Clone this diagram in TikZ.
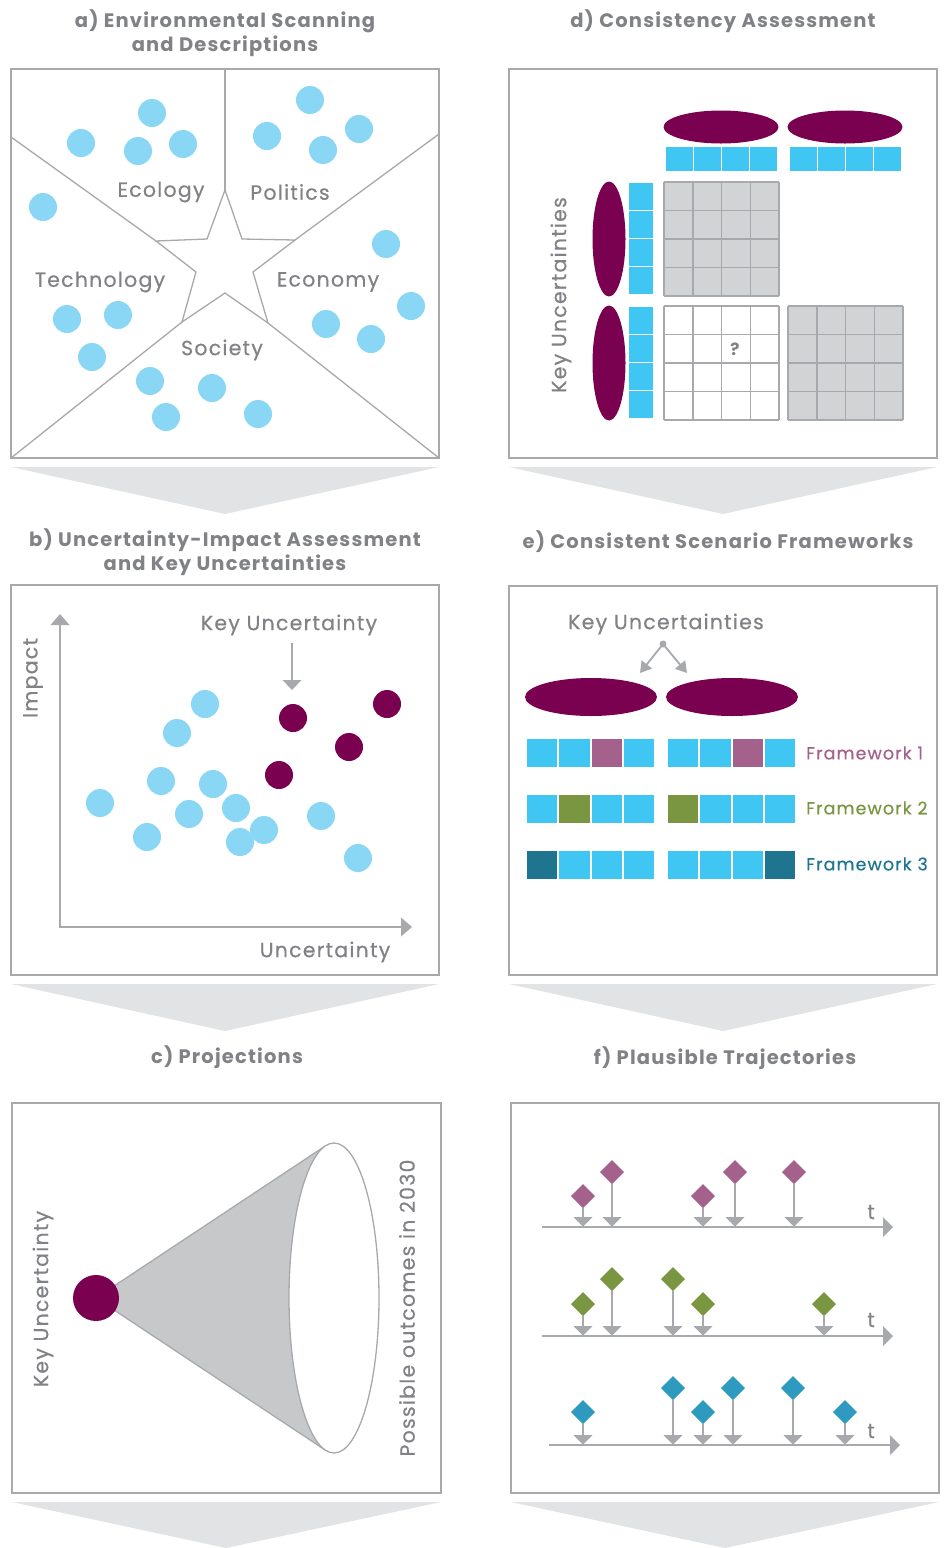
\documentclass[tikz,border=0pt]{standalone}
\usepackage{fontspec}
\setmainfont{Poppins}
\newfontfamily\labf[LetterSpace=6,FakeBold=0.4]{Poppins}
\newfontfamily\ttlf[LetterSpace=6]{Poppins}
\usetikzlibrary{arrows.meta}
\definecolor{bord}{HTML}{A7A9AC}
\definecolor{chev}{HTML}{E2E3E4}
\definecolor{txt}{HTML}{808285}
\definecolor{lblue}{HTML}{89D6F5}
\definecolor{sblue}{HTML}{40C6F2}
\definecolor{purp}{HTML}{7A0050}
\definecolor{mauve}{HTML}{A4618B}
\definecolor{olive}{HTML}{7B9640}
\definecolor{tealdk}{HTML}{1F7590}
\definecolor{teallt}{HTML}{2E9ABF}
\definecolor{gridgray}{HTML}{D1D3D4}
\definecolor{conegray}{HTML}{C7C8CA}
\tikzset{
  panel/.style={draw=bord, line width=2pt, fill=white},
  chevron/.style={fill=chev},
  ttl/.style={text=txt, font=\ttlf\bfseries\fontsize{19.5}{24}\selectfont, align=center, inner sep=0},
  lab/.style={text=txt, font=\labf\fontsize{20.5}{24}\selectfont, inner sep=0},
  flab/.style={anchor=west, inner sep=0, font=\labf\fontsize{17.5}{20}\selectfont},
  bdot/.style={circle, fill=lblue, minimum size=28pt, inner sep=0},
  pdot/.style={circle, fill=purp, minimum size=28pt, inner sep=0},
  thin/.style={draw=bord, line width=1.3pt},
  gline/.style={draw=bord, line width=1.5pt},
  tip/.style={fill=bord},
}
\newcommand\cgrid[3]{%
  \fill[#3] (#1,#2) rectangle ++(115,114);
  \foreach \k in {0,1,2,3,4}{
    \draw[gline] ({#1+\k*28.75},#2) -- ++(0,114);
    \draw[gline] (#1,{#2+\k*28.5}) -- ++(115,0);
  }}
\newcommand\sqrow[6]{%
  \foreach \c [count=\k from 0] in {#5} \fill[\c] ({#1+\k*#3},#2) rectangle ++({#3-#6},#4);}
\newcommand\sqcol[6]{%
  \foreach \c [count=\k from 0] in {#5} \fill[\c] (#1,{#2+\k*#3}) rectangle ++(#4,{#3-#6});}
\newcommand\traj[4]{%
  \fill[#4] (#1,{#2-12}) -- ({#1+12},#2) -- (#1,{#2+12}) -- ({#1-12},#2) -- cycle;
  \draw[thin, line width=1.8pt] (#1,{#2+12}) -- (#1,{#3-10});
  \fill[bord] ({#1-9.5},{#3-10}) -- ({#1+9.5},{#3-10}) -- (#1,{#3-0.5}) -- cycle;}
\begin{document}
\begin{tikzpicture}[x=1pt,y=-1pt]
\useasboundingbox (0,0) rectangle (943,1548);
\fill[white] (0,0) rectangle (943,1548);

% ---------- titles
\node[ttl] (ta) at (225,33) {a) Environmental Scanning\\and Descriptions};
\node[ttl] (td) at (723,21) {d) Consistency Assessment};
\node[ttl] (tb) at (225,552) {b) Uncertainty-Impact Assessment\\and Key Uncertainties};
\node[ttl] (te) at (718,542) {e) Consistent Scenario Frameworks};
\node[ttl] (tc) at (227,1057) {c) Projections};
\node[ttl] (tf) at (725,1058) {f) Plausible Trajectories};

% ---------- chevrons
\fill[chevron] (11,467) -- (439,467) -- (225,514) -- cycle;
\fill[chevron] (509,467) -- (937,467) -- (723,514) -- cycle;
\fill[chevron] (11,984) -- (439,984) -- (225,1031) -- cycle;
\fill[chevron] (509,984) -- (937,984) -- (723,1031) -- cycle;
\fill[chevron] (12,1502) -- (441,1502) -- (226,1548) -- cycle;
\fill[chevron] (511,1502) -- (939,1502) -- (725,1548) -- cycle;

% ---------- panel a
\draw[panel] (11,69) rectangle (439,458);
\draw[thin] (225,190) -- (242,239) -- (295,240) -- (253,272) -- (268,323) -- (225,293)
  -- (182,322) -- (196,272) -- (156,241) -- (207,239) -- cycle;
\draw[thin] (225,190) -- (225,70);
\draw[thin] (156,241) -- (11,137);
\draw[thin] (295,240) -- (439,134);
\draw[thin] (182,322) -- (11,458);
\draw[thin] (268,323) -- (439,458);
\foreach \x/\y [count=\i] in {81/143,152/113,138/151,183/144,43/207,310/100,267/136,323/150,359/129,
  386/244,411/306,326/324,371/339,67/319,118/315,92/357,150/381,212/388,166/417,258/414}
  \node[bdot] (a\i) at (\x,\y) {};
\node[lab] (aeco) at (161,192) {Ecology};
\node[lab] (apol) at (290,192) {Politics};
\node[lab] (atec) at (100,282) {Technology};
\node[lab] (aeco2) at (328,282) {Economy};
\node[lab] (asoc) at (222,350) {Society};

% ---------- panel d
\draw[panel] (509,69) rectangle (937,458);
\fill[purp] (721,127) ellipse [x radius=57.5, y radius=16.5];
\fill[purp] (845,127) ellipse [x radius=57.5, y radius=16.5];
\fill[purp] (609,239) ellipse [x radius=16.5, y radius=57.5];
\fill[purp] (609,363) ellipse [x radius=16.5, y radius=57.5];
\sqrow{666}{147}{28}{24}{sblue,sblue,sblue,sblue}{1.5}
\sqrow{790}{147}{28}{24}{sblue,sblue,sblue,sblue}{1.5}
\sqcol{629}{183}{28}{24}{sblue,sblue,sblue,sblue}{1.5}
\sqcol{629}{307}{28}{24}{sblue,sblue,sblue,sblue}{1.5}
\cgrid{664}{182}{gridgray}
\cgrid{664}{306}{white}
\cgrid{788}{306}{gridgray}
\node[text=txt, font=\bfseries\fontsize{17}{20}\selectfont] (q) at (735,349) {?};
\node[lab, rotate=90] (dku) at (561,295) {Key Uncertainties};

% ---------- panel b
\draw[panel] (11,585) rectangle (439,975);
\draw[thin, line width=2pt] (60,625) -- (60,927) -- (401,927);
\fill[tip] (50.5,625) -- (69.5,625) -- (60,614) -- cycle;
\fill[tip] (401,917.5) -- (401,936.5) -- (412,927) -- cycle;
\node[lab, rotate=90] (bimp) at (33,678) {Impact};
\node[lab] (bunc) at (325,952) {Uncertainty};
\node[lab] (bku) at (289,625) {Key Uncertainty};
\coordinate (bkt) at (292,690);
\draw[thin, line width=1.8pt] (292,643) -- (292,680);
\fill[tip] (282.5,680) -- (301.5,680) -- (bkt) -- cycle;
\foreach \x/\y [count=\i] in {205/704,177/733,161/781,213/784,100/803,189/814,236/808,147/837,
  264/830,240/842,321/816,358/858}
  \node[bdot] (b\i) at (\x,\y) {};
\foreach \x/\y [count=\i] in {293/718,387/704,349/747,279/775}
  \node[pdot] (bp\i) at (\x,\y) {};

% ---------- panel e
\draw[panel] (509,586) rectangle (937,975);
\node[lab] (eku) at (666,624) {Key Uncertainties};
\coordinate (edot) at (663,644);
\coordinate (el) at (640,673);
\coordinate (er) at (687,673);
\fill[bord] (edot) circle (3.5);
\draw[thin, line width=1.8pt, -{Triangle[width=13pt,length=11pt]}] (edot) -- (el);
\draw[thin, line width=1.8pt, -{Triangle[width=13pt,length=11pt]}] (edot) -- (er);
\fill[purp] (591,697) ellipse [x radius=66, y radius=19];
\fill[purp] (732,697) ellipse [x radius=66, y radius=19];
\sqrow{527}{739}{32.25}{28}{sblue,sblue,mauve,sblue}{2}
\sqrow{668}{739}{32.25}{28}{sblue,sblue,mauve,sblue}{2}
\sqrow{527}{795}{32.25}{28}{sblue,olive,sblue,sblue}{2}
\sqrow{668}{795}{32.25}{28}{olive,sblue,sblue,sblue}{2}
\sqrow{527}{851}{32.25}{28}{tealdk,sblue,sblue,sblue}{2}
\sqrow{668}{851}{32.25}{28}{sblue,sblue,sblue,tealdk}{2}
\node[flab, text=mauve] (ef1) at (806,753) {Framework 1};
\node[flab, text=olive] (ef2) at (806,808) {Framework 2};
\node[flab, text=tealdk] (ef3) at (806,864) {Framework 3};

% ---------- panel c
\draw[panel] (12,1103) rectangle (441,1493);
\fill[conegray] (96,1298) -- (325.5,1145.8) -- (325.5,1450.2) -- cycle;
\draw[thin] (96,1298) -- (325.5,1145.8);
\draw[thin] (96,1298) -- (325.5,1450.2);
\draw[thin, fill=white] (334,1298) ellipse [x radius=45, y radius=155];
\node[circle, fill=purp, minimum size=46pt, inner sep=0] (cku) at (96,1298) {};
\node[lab, rotate=90] (ckt) at (43,1299) {Key Uncertainty};
\node[lab, rotate=90] (cpo) at (407,1308) {Possible outcomes in 2030};

% ---------- panel f
\draw[panel] (511,1103) rectangle (939,1493);
\foreach \ay/\ty in {1227/1212,1336/1320}{
  \draw[thin, line width=2pt] (542,\ay) -- (884,\ay);
  \fill[tip] (883,{\ay-10}) -- (883,{\ay+10}) -- (893,\ay) -- cycle;
  \node[lab] at (871,\ty) {t};
}
\draw[thin, line width=2pt] (549,1445) -- (891,1445);
\fill[tip] (890,1435) -- (890,1455) -- (900,1445) -- cycle;
\node[lab] (ft3) at (871,1431) {t};
\traj{583}{1196}{1227}{mauve}
\traj{612}{1172}{1227}{mauve}
\traj{703}{1196}{1227}{mauve}
\traj{735}{1172}{1227}{mauve}
\traj{794}{1172}{1227}{mauve}
\traj{583}{1304}{1336}{olive}
\traj{612}{1279}{1336}{olive}
\traj{673}{1279}{1336}{olive}
\traj{703}{1304}{1336}{olive}
\traj{824}{1304}{1336}{olive}
\traj{583}{1412}{1445}{teallt}
\traj{673}{1388}{1445}{teallt}
\traj{703}{1412}{1445}{teallt}
\traj{733}{1388}{1445}{teallt}
\traj{793}{1388}{1445}{teallt}
\traj{845}{1412}{1445}{teallt}
\end{tikzpicture}
\end{document}
